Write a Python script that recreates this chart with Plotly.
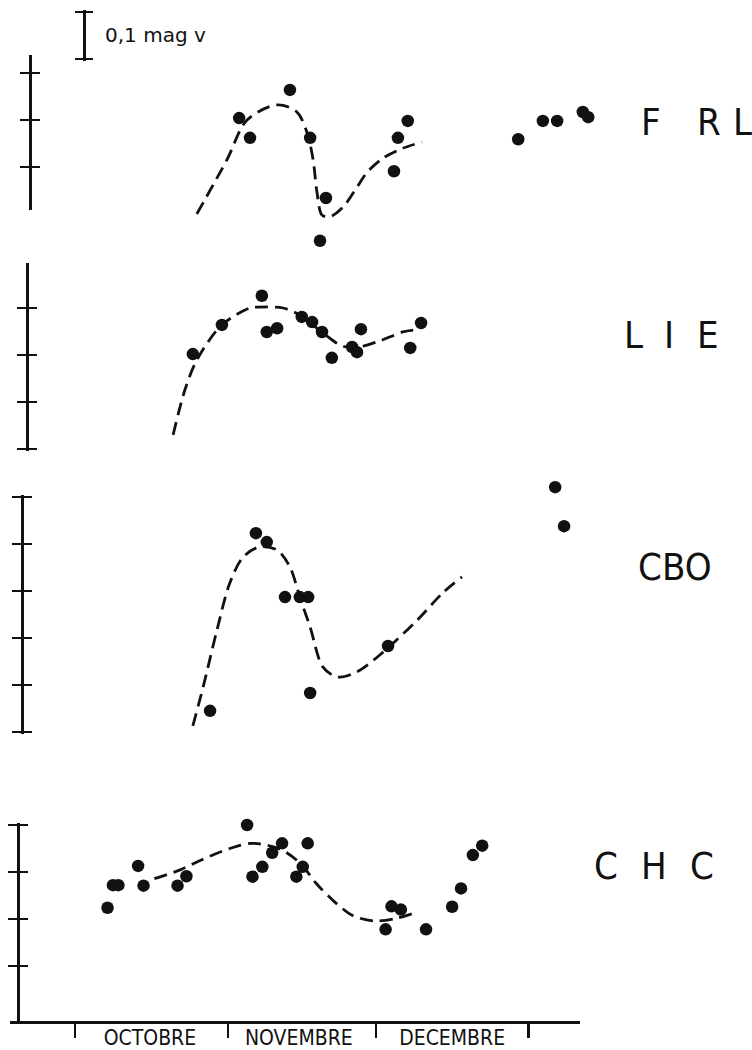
import plotly.graph_objects as go

# ---------------- data (days since 1 Oct, relative magnitude; larger = fainter) -------------
month_names = ["OCTOBRE", "NOVEMBRE", "DECEMBRE"]
month_start_days = [0, 31, 61, 92]
month_label_days = [15.2, 45.4, 76.5]

frl_day = [33.3, 35.5, 43.6, 47.7, 50.9, 49.7, 64.7, 65.5, 67.5, 89.9, 94.9, 97.8, 103.0, 104.1]
frl_mag = [0.096, 0.138, 0.036, 0.138, 0.266, 0.357, 0.209, 0.138, 0.102, 0.141, 0.102, 0.102, 0.083, 0.094]
frl_fit_day = [24.7, 30.8, 34.9, 41.0, 45.0, 47.1, 48.3, 49.1, 50.1, 51.7, 54.4, 57.2, 59.2, 62.5, 66.5, 70.4]
frl_fit_mag = [0.300, 0.185, 0.100, 0.068, 0.083, 0.128, 0.185, 0.255, 0.302, 0.306, 0.285, 0.243, 0.212, 0.181, 0.160, 0.147]

lie_day = [23.9, 29.8, 37.9, 38.9, 41.0, 46.0, 48.1, 50.1, 52.1, 56.2, 57.2, 58.0, 68.0, 70.2]
lie_mag = [0.098, 0.036, -0.026, 0.051, 0.043, 0.019, 0.030, 0.051, 0.106, 0.083, 0.094, 0.045, 0.085, 0.032]
lie_fit_day = [19.9, 22.3, 24.7, 29.8, 35.5, 37.5, 42.2, 45.6, 50.3, 53.8, 56.4, 61.3, 66.5, 68.6]
lie_fit_mag = [0.270, 0.174, 0.111, 0.036, 0.000, -0.002, 0.000, 0.015, 0.053, 0.079, 0.085, 0.072, 0.051, 0.047]

cbo_day = [36.7, 38.9, 42.6, 45.6, 47.3, 63.5, 47.7, 27.4, 97.4, 99.2]
cbo_mag = [0.077, 0.096, 0.213, 0.213, 0.213, 0.317, 0.417, 0.455, -0.021, 0.062]
cbo_fit_day = [23.9, 26.0, 28.8, 31.4, 34.1, 37.5, 41.0, 43.6, 45.6, 47.7, 50.3, 53.3, 57.2, 62.5, 69.4, 74.6, 78.5]
cbo_fit_mag = [0.487, 0.404, 0.283, 0.183, 0.128, 0.106, 0.113, 0.149, 0.213, 0.277, 0.362, 0.383, 0.372, 0.330, 0.262, 0.204, 0.170]

chc_day = [6.6, 7.7, 8.8, 12.8, 13.9, 20.8, 22.6, 34.9, 36.0, 38.0, 40.0, 42.0, 44.9, 46.2, 47.2,
           63.0, 64.2, 66.1, 71.2, 76.5, 78.3, 80.7, 82.6]
chc_mag = [0.176, 0.128, 0.128, 0.087, 0.129, 0.129, 0.109, 0.000, 0.110, 0.089, 0.059, 0.039, 0.110, 0.089, 0.039,
           0.222, 0.173, 0.180, 0.222, 0.174, 0.135, 0.064, 0.044]
chc_fit_day = [16.1, 21.2, 25.5, 31.4, 35.8, 40.1, 43.1, 46.0, 48.9, 52.6, 56.2, 60.6, 65.0, 68.6]
chc_fit_mag = [0.114, 0.096, 0.075, 0.050, 0.039, 0.046, 0.060, 0.085, 0.124, 0.163, 0.192, 0.204, 0.199, 0.188]

scale_bar_mag = [0.0, 0.1]
scale_label = "0,1 mag v"

# ---------------- geometry (layout only) ----------------
W, H = 752, 1050
PX_DAY = 4.93       # pixels per day
X0 = 75             # pixel of day 0
PX_MAG = 470        # pixels per magnitude
INK = "#111111"
LW = 2.8
PAD = 0.004         # small padding so end caps are not on the domain edge


def px_x(px):
    return px / W


def py_y(py):
    return 1 - py / H


def y_axis_span(ref, top_px, bot_px):
    """domain (paper) and range (mag, reversed) for a vertical pixel span."""
    dom = [py_y(bot_px), py_y(top_px)]
    rng = [(bot_px - ref) / PX_MAG, (top_px - ref) / PX_MAG]
    return dom, rng


panels = [
    dict(name="FRL", ref=73, top=-0.038, bottom=0.291, ax=30, ticks=[0, 0.1, 0.2],
         data_span=(0, 262),
         d=frl_day, m=frl_mag, fd=frl_fit_day, fm=frl_fit_mag),
    dict(name="LIE", ref=308, top=-0.096, bottom=0.3 + PAD, ax=27, ticks=[0, 0.1, 0.2, 0.3],
         data_span=(262, 470),
         d=lie_day, m=lie_mag, fd=lie_fit_day, fm=lie_fit_mag),
    dict(name="CBO", ref=497, top=-PAD, bottom=0.5 + PAD, ax=22, ticks=[0, 0.1, 0.2, 0.3, 0.4, 0.5],
         data_span=(470, 760),
         d=cbo_day, m=cbo_mag, fd=cbo_fit_day, fm=cbo_fit_mag),
    dict(name="CHC", ref=825, top=-PAD, bottom=0.42, ax=18, ticks=[0, 0.1, 0.2, 0.3],
         data_span=(790, 1020),
         d=chc_day, m=chc_mag, fd=chc_fit_day, fm=chc_fit_mag),
]

fig = go.Figure()
layout = dict(
    width=W, height=H, margin=dict(l=0, r=0, t=0, b=0),
    paper_bgcolor="white", plot_bgcolor="rgba(0,0,0,0)", showlegend=False,
)

# data x axis: spans the full page width, invisible
layout["xaxis"] = dict(domain=[0, 1], range=[-X0 / PX_DAY, (W - X0) / PX_DAY], visible=False,
                       fixedrange=True)

# drawn time axis (line + month ticks) and its labels
AXIS_Y_PX = 1022
xr_decor = [(10 - X0) / PX_DAY, (580 - X0) / PX_DAY]
layout["xaxis2"] = dict(
    domain=[px_x(10), px_x(580)], range=xr_decor, anchor="free", position=py_y(AXIS_Y_PX),
    showline=True, linecolor=INK, linewidth=LW, showgrid=False, zeroline=False,
    tickmode="array", tickvals=month_start_days, ticks="outside", ticklen=14,
    tickwidth=2.2, tickcolor=INK, showticklabels=False,
)
layout["xaxis3"] = dict(
    overlaying="x2", anchor="free", position=py_y(AXIS_Y_PX), range=xr_decor,
    showline=False, showgrid=False, zeroline=False,
    tickmode="array", tickvals=month_label_days, ticktext=month_names,
    ticks="", ticklabelstandoff=1,
    tickfont=dict(family="Liberation Sans Narrow, DejaVu Sans Condensed, DejaVu Sans", size=21, color=INK),
)

n = len(panels)
for i, p in enumerate(panels, start=1):
    # --- data axis (invisible), same magnitude scale
    key = "yaxis" if i == 1 else f"yaxis{i}"
    yid = "y" if i == 1 else f"y{i}"
    dom, rng = y_axis_span(p["ref"], *p["data_span"])
    layout[key] = dict(domain=dom, range=rng, visible=False, fixedrange=True)

    # --- drawn vertical scale (line + ticks crossing the line)
    top_px = p["ref"] + PX_MAG * p["top"]
    bot_px = p["ref"] + PX_MAG * p["bottom"]
    ddom, drng = y_axis_span(p["ref"], top_px, bot_px)
    common = dict(range=drng, showgrid=False, zeroline=False, tickmode="array",
                  tickvals=p["ticks"], showticklabels=False, tickwidth=LW, tickcolor=INK,
                  ticklen=9, anchor="free", position=px_x(p["ax"]))
    out_id = 4 + i
    in_id = 4 + n + i
    layout[f"yaxis{out_id}"] = dict(domain=ddom, showline=True, linecolor=INK, linewidth=LW,
                                    ticks="outside", **common)
    layout[f"yaxis{in_id}"] = dict(overlaying=f"y{out_id}", showline=False, ticks="inside", **common)
    fig.add_trace(go.Scatter(x=[], y=[], xaxis="x2", yaxis=f"y{out_id}", hoverinfo="skip"))
    fig.add_trace(go.Scatter(x=[], y=[], xaxis="x2", yaxis=f"y{in_id}", hoverinfo="skip"))

    # --- data: fitted curve and observations
    fig.add_trace(go.Scatter(
        x=p["fd"], y=p["fm"], xaxis="x", yaxis=yid, mode="lines",
        line=dict(color=INK, width=LW, dash="13px,7px", shape="spline", smoothing=0.9),
        hoverinfo="skip"))
    fig.add_trace(go.Scatter(
        x=p["d"], y=p["m"], xaxis="x", yaxis=yid, mode="markers",
        marker=dict(color=INK, size=12.5), hoverinfo="skip"))

fig.add_trace(go.Scatter(x=[], y=[], xaxis="x3", yaxis="y5", hoverinfo="skip"))

# scale bar: a small axis spanning 0.1 mag
SB_TOP = 12
sb_dom, sb_rng = y_axis_span(SB_TOP, SB_TOP - PX_MAG * PAD, SB_TOP + PX_MAG * (0.1 + PAD))
sb_common = dict(range=sb_rng, showgrid=False, zeroline=False, tickmode="array",
                 tickvals=scale_bar_mag, showticklabels=False, tickwidth=LW, tickcolor=INK,
                 ticklen=8, anchor="free", position=px_x(84))
layout["yaxis13"] = dict(domain=sb_dom, showline=True, linecolor=INK, linewidth=LW,
                         ticks="outside", **sb_common)
layout["yaxis14"] = dict(overlaying="y13", showline=False, ticks="inside", **sb_common)
fig.add_trace(go.Scatter(x=[], y=[], xaxis="x2", yaxis="y13", hoverinfo="skip"))
fig.add_trace(go.Scatter(x=[], y=[], xaxis="x2", yaxis="y14", hoverinfo="skip"))

annotations = [dict(text=scale_label, xref="paper", yref="paper", x=px_x(103), y=py_y(35),
                    xanchor="left", yanchor="middle", showarrow=False,
                    font=dict(family="DejaVu Sans", size=20, color=INK))]

label_font = dict(family="DejaVu Sans Condensed, DejaVu Sans", size=38, color=INK)
letters = [
    ("F", 651, 122), ("R", 709, 122), ("L", 742, 122),
    ("L", 633, 335), ("I", 669, 335), ("E", 708, 335),
    ("CBO", 675, 567),
    ("C", 606, 866), ("H", 654, 866), ("C", 702, 866),
]
for t, x, y in letters:
    annotations.append(dict(text=t, xref="paper", yref="paper", x=px_x(x), y=py_y(y),
                            xanchor="center", yanchor="middle", showarrow=False, font=label_font))
layout["annotations"] = annotations

fig.update_layout(**layout)
fig.write_html(
    "out.html",
    config={"displayModeBar": False, "staticPlot": True},
    post_script="document.body.style.margin='0';document.body.style.overflow='hidden';",
)
